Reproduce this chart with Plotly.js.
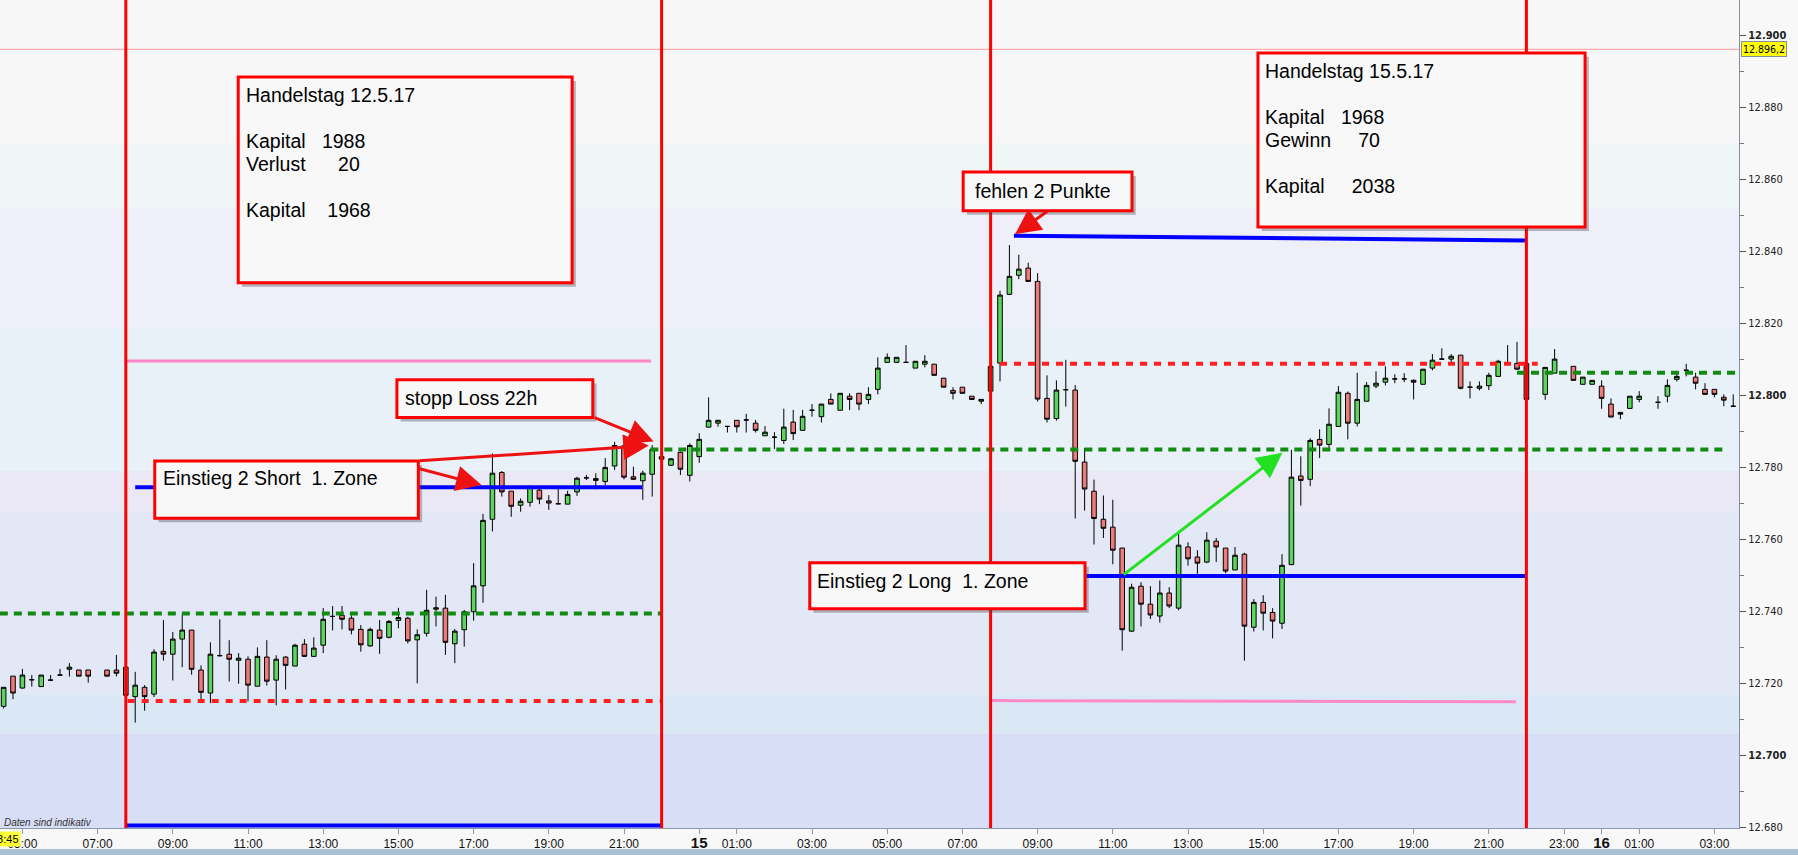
<!DOCTYPE html>
<html>
<head>
<meta charset="utf-8">
<script src="https://cdn.plot.ly/plotly-3.0.1.min.js"></script>
<style>
  html, body { margin: 0; padding: 0; background: #f8f8f8; overflow: hidden; }
  #chart { width: 1798px; height: 855px; }
</style>
</head>
<body>
<div id="chart"></div>
<script>
// DAX 15-Minuten-Kerzen, Fr 12.5.17 bis Di 16.5.17 früh
const times = [
  'Fr 04:30','Fr 04:45','Fr 05:00','Fr 05:15','Fr 05:30','Fr 05:45','Fr 06:00','Fr 06:15','Fr 06:30','Fr 06:45',
  'Fr 07:15','Fr 07:30','Fr 07:45','Fr 08:00','Fr 08:15','Fr 08:30','Fr 08:45','Fr 09:00','Fr 09:15','Fr 09:30',
  'Fr 09:45','Fr 10:00','Fr 10:15','Fr 10:30','Fr 10:45','Fr 11:00','Fr 11:15','Fr 11:30','Fr 11:45','Fr 12:00',
  'Fr 12:15','Fr 12:30','Fr 12:45','Fr 13:00','Fr 13:15','Fr 13:30','Fr 13:45','Fr 14:00','Fr 14:15','Fr 14:30',
  'Fr 14:45','Fr 15:00','Fr 15:15','Fr 15:30','Fr 15:45','Fr 16:00','Fr 16:15','Fr 16:30','Fr 16:45','Fr 17:00',
  'Fr 17:15','Fr 17:30','Fr 17:45','Fr 18:00','Fr 18:15','Fr 18:30','Fr 18:45','Fr 19:00','Fr 19:15','Fr 19:30',
  'Fr 19:45','Fr 20:00','Fr 20:15','Fr 20:30','Fr 20:45','Fr 21:00','Fr 21:15','Fr 21:30','Fr 21:45',
  'So 23:00','So 23:15','So 23:30','So 23:45',
  'Mo 00:00','Mo 00:15','Mo 00:30','Mo 00:45','Mo 01:00','Mo 01:15','Mo 01:30','Mo 01:45','Mo 02:00','Mo 02:15',
  'Mo 02:30','Mo 02:45','Mo 03:00','Mo 03:15','Mo 03:30','Mo 03:45','Mo 04:00','Mo 04:15','Mo 04:30','Mo 04:45',
  'Mo 05:00','Mo 05:15','Mo 05:30','Mo 05:45','Mo 06:00','Mo 06:15','Mo 06:30','Mo 06:45','Mo 07:00','Mo 07:15',
  'Mo 07:30','Mo 07:45','Mo 08:00','Mo 08:15','Mo 08:30','Mo 08:45','Mo 09:00','Mo 09:15','Mo 09:30','Mo 09:45',
  'Mo 10:00','Mo 10:15','Mo 10:30','Mo 10:45','Mo 11:00','Mo 11:15','Mo 11:30','Mo 11:45','Mo 12:00','Mo 12:15',
  'Mo 12:30','Mo 12:45','Mo 13:00','Mo 13:15','Mo 13:30','Mo 13:45','Mo 14:00','Mo 14:15','Mo 14:30','Mo 14:45',
  'Mo 15:00','Mo 15:15','Mo 15:30','Mo 15:45','Mo 16:00','Mo 16:15','Mo 16:30','Mo 16:45','Mo 17:00','Mo 17:15',
  'Mo 17:30','Mo 17:45','Mo 18:00','Mo 18:15','Mo 18:30','Mo 18:45','Mo 19:00','Mo 19:15','Mo 19:30','Mo 19:45',
  'Mo 20:00','Mo 20:15','Mo 20:30','Mo 20:45','Mo 21:00','Mo 21:15','Mo 21:30','Mo 21:45','Mo 22:00','Mo 22:30',
  'Mo 22:45','Mo 23:15','Mo 23:30','Mo 23:45',
  'Di 00:00','Di 00:15','Di 00:30','Di 00:45','Di 01:00','Di 01:30','Di 01:45','Di 02:00','Di 02:15','Di 02:30',
  'Di 02:45','Di 03:00','Di 03:15','Di 03:30'
];
const open = [
  12713.6,12722.0,12718.7,12721.0,12719.1,12720.9,12722.3,12723.9,12723.7,12723.7,
  12723.7,12723.7,12724.5,12716.3,12718.9,12717.0,12728.9,12728.1,12732.3,12734.8,
  12723.7,12717.3,12727.7,12728.1,12726.4,12726.7,12719.2,12727.3,12720.9,12727.3,
  12724.8,12730.9,12727.5,12730.6,12738.6,12738.9,12738.1,12735.0,12730.4,12734.8,
  12732.8,12737.5,12738.1,12732.1,12733.9,12740.6,12740.9,12731.0,12734.9,12739.9,
  12747.1,12765.6,12778.6,12773.4,12769.5,12770.3,12773.7,12770.7,12769.9,12769.8,
  12773.2,12777.1,12776.9,12776.1,12780.4,12786.0,12777.4,12776.3,12778.1,
  12783.0,12780.6,12784.2,12777.8,
  12783.0,12791.2,12792.3,12791.4,12793.1,12793.2,12792.3,12788.8,12788.4,12787.5,
  12792.6,12790.3,12795.9,12794.1,12798.9,12795.9,12799.8,12800.6,12798.9,12801.7,
  12809.2,12809.2,12809.2,12807.6,12808.7,12808.7,12804.8,12801.4,12802.3,12799.8,
  12798.4,12801.2,12809.0,12828.1,12833.4,12835.4,12831.7,12799.2,12793.6,12801.6,
  12801.5,12781.5,12773.4,12765.6,12763.4,12757.6,12734.5,12747.0,12742.0,12738.7,
  12745.1,12740.9,12757.9,12755.1,12753.7,12759.5,12757.6,12751.5,12755.9,12735.6,
  12742.5,12739.7,12736.7,12753.0,12777.6,12776.7,12787.8,12786.4,12791.4,12800.6,
  12792.3,12798.4,12802.6,12803.7,12804.6,12804.6,12804.2,12803.1,12807.6,12810.1,
  12810.1,12811.2,12802.3,12802.0,12802.7,12805.3,12808.9,12808.9,12808.9,12800.3,
  12806.2,12808.1,12803.1,12803.1,
  12802.6,12797.6,12795.3,12796.4,12798.9,12798.1,12799.8,12804.5,12807.0,12805.1,
  12801.7,12801.7,12799.5,12797.0
];
const high = [
  12719.0,12722.0,12724.0,12722.3,12722.3,12722.3,12724.0,12725.6,12723.7,12723.7,
  12723.7,12727.9,12724.5,12723.2,12719.5,12729.5,12737.6,12734.3,12739.0,12734.8,
  12725.0,12731.4,12737.8,12732.0,12728.4,12727.5,12730.0,12732.0,12727.8,12727.5,
  12731.0,12732.3,12732.8,12740.9,12741.5,12741.5,12738.9,12736.2,12735.5,12737.6,
  12737.6,12741.0,12738.5,12735.0,12746.0,12744.1,12744.6,12735.1,12740.4,12753.4,
  12767.1,12783.9,12779.0,12773.4,12771.4,12775.1,12774.5,12772.3,12774.2,12773.5,
  12777.4,12777.9,12778.4,12782.6,12787.1,12789.0,12780.2,12779.1,12786.2,
  12783.2,12782.6,12784.4,12786.7,
  12789.5,12799.5,12793.1,12791.4,12793.1,12794.9,12793.2,12791.5,12789.8,12796.3,
  12796.0,12796.0,12797.6,12797.6,12800.6,12800.6,12800.6,12800.6,12802.3,12810.6,
  12811.7,12810.6,12814.0,12809.5,12811.2,12808.7,12804.8,12802.3,12802.3,12799.8,
  12798.9,12808.1,12829.1,12841.8,12839.1,12836.9,12834.0,12805.6,12804.2,12809.9,
  12802.9,12785.4,12776.6,12772.2,12771.0,12757.6,12747.7,12748.1,12747.0,12748.6,
  12746.7,12761.7,12759.2,12757.0,12762.0,12760.4,12757.6,12757.9,12756.3,12743.4,
  12744.5,12740.9,12755.9,12784.9,12783.1,12788.1,12790.6,12796.4,12802.6,12801.1,
  12806.3,12803.7,12806.7,12808.1,12805.9,12806.2,12804.5,12807.3,12811.5,12813.1,
  12811.5,12811.2,12803.9,12803.9,12806.3,12809.9,12814.0,12814.9,12809.0,12807.8,
  12812.9,12808.1,12805.1,12804.2,
  12804.2,12799.2,12795.3,12799.8,12801.2,12799.8,12804.5,12806.2,12808.8,12806.3,
  12803.4,12801.7,12800.3,12800.3
];
const low = [
  12713.0,12715.6,12718.5,12719.1,12719.1,12720.9,12722.3,12721.9,12722.0,12720.2,
  12722.0,12721.9,12716.5,12709.1,12712.4,12716.2,12726.3,12720.8,12724.5,12722.4,
  12715.6,12714.5,12727.4,12720.5,12719.9,12715.0,12719.2,12719.4,12713.9,12718.3,
  12724.8,12727.3,12727.5,12728.4,12734.7,12735.0,12733.6,12728.8,12730.2,12728.2,
  12732.5,12735.3,12731.1,12720.0,12733.0,12735.8,12727.9,12725.6,12730.2,12737.4,
  12742.4,12762.2,12771.9,12766.3,12767.7,12769.1,12769.8,12768.2,12769.9,12769.8,
  12772.1,12776.5,12773.9,12775.1,12779.3,12776.7,12776.5,12771.0,12771.9,
  12782.0,12780.4,12777.9,12776.1,
  12781.3,12791.2,12791.3,12789.7,12789.7,12789.7,12789.7,12788.8,12785.1,12786.5,
  12787.6,12790.3,12794.1,12792.5,12797.6,12795.9,12795.9,12795.9,12797.6,12800.3,
  12809.2,12809.2,12809.2,12807.6,12807.8,12805.6,12802.3,12798.9,12800.6,12798.9,
  12797.6,12801.2,12803.9,12827.9,12832.3,12831.7,12798.3,12792.5,12793.0,12796.9,
  12765.8,12768.0,12758.6,12760.4,12753.1,12729.1,12734.3,12735.8,12737.9,12736.9,
  12740.9,12740.3,12752.7,12750.4,12753.4,12753.7,12750.6,12751.5,12726.3,12734.4,
  12734.7,12732.5,12735.1,12752.8,12769.4,12774.8,12782.6,12785.3,12791.4,12787.8,
  12791.4,12798.4,12802.0,12802.8,12803.4,12803.7,12798.9,12803.1,12807.0,12809.9,
  12808.9,12801.7,12799.2,12801.4,12801.5,12805.3,12808.4,12807.1,12798.8,12798.8,
  12806.2,12804.2,12803.1,12803.1,
  12796.3,12794.0,12793.4,12796.4,12798.1,12796.3,12798.1,12803.9,12805.3,12801.7,
  12800.3,12799.5,12797.0,12797.0
];
const close = [
  12718.9,12717.3,12722.3,12721.0,12722.3,12720.9,12722.3,12724.5,12722.0,12722.0,
  12722.0,12722.8,12716.7,12719.5,12716.3,12728.7,12728.1,12732.3,12734.8,12723.9,
  12717.5,12728.1,12727.7,12726.7,12727.0,12719.5,12727.5,12720.6,12726.7,12725.0,
  12730.6,12727.5,12729.8,12737.8,12738.6,12737.8,12734.8,12730.7,12735.0,12732.5,
  12737.2,12738.3,12731.8,12733.5,12740.3,12741.0,12731.4,12734.5,12739.9,12747.1,
  12765.3,12778.4,12773.2,12769.2,12770.6,12774.5,12771.2,12770.1,12769.9,12772.5,
  12777.0,12777.1,12776.4,12780.0,12786.1,12777.3,12776.7,12778.4,12785.0,
  12782.3,12782.4,12779.5,12786.1,
  12787.8,12793.1,12793.1,12791.4,12791.3,12793.2,12790.3,12789.8,12788.4,12791.2,
  12789.4,12794.2,12795.9,12797.6,12797.6,12800.6,12798.9,12797.6,12800.3,12807.6,
  12810.6,12810.6,12809.2,12809.5,12809.5,12805.6,12802.3,12800.6,12800.6,12798.9,
  12798.9,12808.1,12827.9,12833.1,12835.1,12831.7,12799.0,12793.4,12801.5,12801.6,
  12781.7,12774.0,12765.8,12763.1,12757.0,12734.9,12746.7,12742.0,12739.0,12745.1,
  12741.5,12758.4,12754.6,12753.4,12759.8,12757.9,12751.2,12755.6,12735.9,12742.5,
  12739.5,12737.3,12752.8,12777.3,12776.4,12787.5,12786.2,12792.0,12800.9,12792.3,
  12798.9,12802.8,12803.4,12804.8,12804.6,12804.6,12803.7,12807.3,12809.8,12810.1,
  12810.9,12802.0,12802.3,12802.6,12805.6,12809.5,12808.9,12807.3,12798.9,12807.8,
  12810.1,12804.2,12805.1,12804.2,
  12799.2,12794.0,12794.8,12799.8,12799.8,12798.1,12802.8,12805.3,12807.0,12803.4,
  12800.3,12800.3,12798.7,12797.0
];

// Zeitachse: Handelsstunden ab Fr 00:00, Wochenende zusammengeschoben (So 23:00 = Fr 22:00)
const DAY_OFFSET = { Fr: 0, So: -1, Mo: 23, Di: 47 };
function slot(t) {
  const [d, hm] = t.split(' ');
  const [h, m] = hm.split(':').map(Number);
  return DAY_OFFSET[d] + h + m / 60;
}

const tickTimes = ['Fr 05:00','Fr 07:00','Fr 09:00','Fr 11:00','Fr 13:00','Fr 15:00','Fr 17:00','Fr 19:00','Fr 21:00',
  'Mo 00:00','Mo 01:00','Mo 03:00','Mo 05:00','Mo 07:00','Mo 09:00','Mo 11:00','Mo 13:00','Mo 15:00','Mo 17:00',
  'Mo 19:00','Mo 21:00','Mo 23:00','Di 00:00','Di 01:00','Di 03:00'];
const tickLabels = ['05:00','07:00','09:00','11:00','13:00','15:00','17:00','19:00','21:00',
  '15','01:00','03:00','05:00','07:00','09:00','11:00','13:00','15:00','17:00',
  '19:00','21:00','23:00','16','01:00','03:00'];
const priceTicks = [12680,12700,12720,12740,12760,12780,12800,12820,12840,12860,12880,12900];
const lastPrice = 12896.2;

// Handelstage: Beginn 07:45, Ende 22:00
const dayBounds = ['Fr 07:45', 'Fr 22:00', 'Mo 07:45', 'Mo 22:00'];

// eingezeichnete Zonen [x von, x bis, Kurs links, Kurs rechts] in Stunden-Slots
const blueLines  = [[8.0, 21.48, 12774.5, 12774.5], [7.75, 22.0, 12680.5, 12680.5],
                    [31.37, 44.96, 12844.4, 12843.1], [33.3, 45.0, 12749.8, 12749.8]];
const pinkLines  = [[7.76, 21.72, 12809.6, 12809.6], [30.79, 44.72, 12715.2, 12714.9]];
const greenDots  = [[4.4, 22.0, 12739.4, 12739.4], [21.7, 50.32, 12785.0, 12785.0], [44.75, 50.6, 12806.3, 12806.3]];
const redDots    = [[7.8, 22.0, 12715.1, 12715.1], [31.0, 45.3, 12808.8, 12808.8]];

// Pfeile [Start x, Start Kurs, Spitze x, Spitze Kurs]
const redArrows   = [[20.18, 12794.0, 21.79, 12787.2], [15.53, 12781.8, 21.66, 12786.1],
                     [15.5, 12779.8, 17.21, 12775.1], [32.3, 12851.5, 31.4, 12844.8]];
const greenArrows = [[34.25, 12749.9, 38.51, 12784.1]];

const NB = '\u00a0';
// Textkästen [x0, x1, y unten, y oben, Text x, Kurs der 1. Zeile, Zeilen]
const notes = [
  [10.74, 19.62, 12831.3, 12888.5, 10.9, 12883.4,
    ['Handelstag 12.5.17', '', `Kapital${NB.repeat(3)}1988`, `Verlust${NB.repeat(6)}20`, '', `Kapital${NB.repeat(4)}1968`]],
  [37.86, 46.56, 12846.8, 12895.2, 38.0, 12890.1,
    ['Handelstag 15.5.17', '', `Kapital${NB.repeat(3)}1968`, `Gewinn${NB.repeat(5)}70`, '', `Kapital${NB.repeat(5)}2038`]],
  [30.02, 34.51, 12851.3, 12862.1, 30.28, 12856.9, ['fehlen 2 Punkte']],
  [14.96, 20.17, 12793.9, 12804.4, 15.12, 12799.2, ['stopp Loss 22h']],
  [8.52, 15.53, 12765.9, 12781.8, 8.69, 12777.2, [`Einstieg 2 Short${NB}${NB}1. Zone`]],
  [25.94, 33.26, 12740.7, 12753.5, 26.08, 12748.5, [`Einstieg 2 Long${NB}${NB}1. Zone`]],
];

// Hintergrundstreifen [Kurs von, Kurs bis, Farbe]
const BANDS = [
  [12870, 12920, '#f7f7f8'], [12852, 12870, '#eff6f6'], [12819, 12852, '#eeeff8'],
  [12779, 12819, '#e8f0f8'], [12768, 12779, '#ebe8f6'], [12717, 12768, '#e3e8f6'],
  [12706, 12717, '#dae8f6'], [12670, 12706, '#d8def6'],
];

const X_RANGE = [4.404, 50.654];
const Y_RANGE = [12679.8, 12909.9];
const LINE_STEP = 6.37; // Zeilenabstand in Kurspunkten (~23 px)
const BOX_FONT = { family: '"Liberation Sans", Arial, sans-serif', size: 19.5, color: '#000' };
const AXIS_FONT = { family: '"DejaVu Sans Condensed", "DejaVu Sans", sans-serif', size: 11, color: '#222' };

function fmtPrice(v) {
  const s = String(v).replace(/(\d{2})(\d{3})$/, '$1.$2');
  return v % 100 === 0 ? `<b>${s}</b>` : s;
}

function lineShapes(list, style) {
  return list.map(([x0, x1, y0, y1]) => ({ type: 'line', xref: 'x', yref: 'y', x0, x1, y0, y1, layer: 'above', line: style }));
}

const shapes = [
  ...BANDS.map(([a, b, c]) => ({ type: 'rect', xref: 'paper', yref: 'y', x0: 0, x1: 1, y0: a, y1: b, layer: 'below', fillcolor: c, line: { width: 0 } })),
  { type: 'line', xref: 'paper', yref: 'y', x0: 0, x1: 1, y0: lastPrice, y1: lastPrice, layer: 'above', line: { color: '#ff9a9a', width: 1 } },
  ...lineShapes(greenDots, { color: '#138a13', width: 4, dash: '8px,6px' }),
  ...lineShapes(redDots, { color: '#ff1f1f', width: 4, dash: '7px,7px' }),
  ...lineShapes(pinkLines, { color: '#ff88c8', width: 3 }),
  ...lineShapes(blueLines, { color: '#0000ff', width: 4 }),
  ...dayBounds.map((t) => ({ type: 'line', xref: 'x', yref: 'paper', x0: slot(t), x1: slot(t), y0: 0, y1: 1, layer: 'above', line: { color: '#ff0000', width: 3 } })),
  // Schatten + Rahmen der Textkästen
  ...notes.map(([x0, x1, y0, y1]) => ({ type: 'rect', xref: 'x', yref: 'y', x0: x0 + 0.1, x1: x1 + 0.1, y0: y0 - 1.1, y1: y1 - 1.1, layer: 'above', fillcolor: 'rgba(60,60,70,0.35)', line: { width: 0 } })),
  ...notes.map(([x0, x1, y0, y1]) => ({ type: 'rect', xref: 'x', yref: 'y', x0, x1, y0, y1, layer: 'above', fillcolor: '#f8f8f8', line: { color: '#ff0000', width: 3 } })),
  // Leiste unter der Zeitachse
  { type: 'rect', xref: 'paper', yref: 'paper', x0: -0.01, x1: 1.05, y0: -0.06, y1: -0.0255, layer: 'above', fillcolor: '#a9c1d2', line: { width: 0 } },
];

function arrow([ax, ay, x, y], color) {
  return { x, y, ax, ay, xref: 'x', yref: 'y', axref: 'x', ayref: 'y', text: '', showarrow: true,
    arrowhead: 2, arrowsize: 1.7, arrowwidth: 3, arrowcolor: color, standoff: 0, startstandoff: 0 };
}

const noteTexts = notes.flatMap(([, , , , tx, ty, lines]) =>
  lines.map((text, i) => ({ text, x: tx, y: ty - i * LINE_STEP })).filter((l) => l.text));

const annotations = [
  ...noteTexts.map(({ text, x, y }) => ({ x, y, xref: 'x', yref: 'y', text, showarrow: false,
    xanchor: 'left', yanchor: 'middle', align: 'left', font: BOX_FONT })),
  ...redArrows.map((a) => arrow(a, '#ee1111')),
  ...greenArrows.map((a) => arrow(a, '#22e022')),
  { xref: 'paper', yref: 'y', x: 1.0012, y: lastPrice, xanchor: 'left', yanchor: 'middle', text: '12.896,2', showarrow: false,
    bgcolor: '#ffff00', bordercolor: '#7f8f9f', borderwidth: 1, borderpad: 1, font: { ...AXIS_FONT, size: 10.5, color: '#000' } },
  { xref: 'paper', yref: 'paper', x: 0.001, y: 0.007, xanchor: 'left', yanchor: 'middle', text: '<i>Daten sind indikativ</i>',
    showarrow: false, font: { family: '"Liberation Sans", Arial, sans-serif', size: 10, color: '#333' } },
  // Fadenkreuz-Zeitmarke am linken Rand (wie im Original teilweise abgeschnitten)
  { xref: 'paper', yref: 'paper', x: 0.0118, y: -0.0135, xanchor: 'right', yanchor: 'middle', text: '03:45', showarrow: false,
    bgcolor: '#ffff33', borderpad: 1, font: { family: '"Liberation Sans Narrow", "Liberation Sans", Arial', size: 11, color: '#000' } },
];

const trace = {
  type: 'candlestick',
  x: times.map(slot), open, high, low, close,
  increasing: { line: { color: '#000000', width: 1 }, fillcolor: '#5ad65a' },
  decreasing: { line: { color: '#000000', width: 1 }, fillcolor: '#ee7a7a' },
  whiskerwidth: 0,
  hoverinfo: 'skip',
};

const layout = {
  width: 1798, height: 855,
  margin: { l: 0, r: 59, t: 0, b: 27 },
  paper_bgcolor: '#f8f8f8',
  plot_bgcolor: '#f7f7f8',
  showlegend: false,
  boxgap: 0.3,
  xaxis: {
    range: X_RANGE, rangeslider: { visible: false }, showgrid: false, zeroline: false,
    showline: true, linecolor: '#8a9aaa', linewidth: 1,
    tickmode: 'array', tickvals: tickTimes.map(slot),
    ticktext: tickLabels.map((l) => l.includes(':') ? l : `<b><span style="font-size:15px">${l}</span></b>`),
    ticks: 'outside', ticklen: 5, tickcolor: '#8a9aaa',
    tickfont: { family: '"Liberation Sans Narrow", "Liberation Sans", Arial, sans-serif', size: 12, color: '#111' },
  },
  yaxis: {
    range: Y_RANGE, side: 'right', showgrid: false, zeroline: false,
    showline: true, linecolor: '#7f8f9f', linewidth: 1,
    tickmode: 'array', tickvals: priceTicks, ticktext: priceTicks.map(fmtPrice),
    ticks: 'outside', ticklen: 6, tickcolor: '#555',
    minor: { tickmode: 'linear', tick0: 12680, dtick: 10, ticks: 'outside', ticklen: 4, tickcolor: '#777' },
    tickfont: AXIS_FONT,
  },
  shapes,
  annotations,
};

Plotly.newPlot('chart', [trace], layout, { displayModeBar: false, staticPlot: true });
</script>
</body>
</html>
